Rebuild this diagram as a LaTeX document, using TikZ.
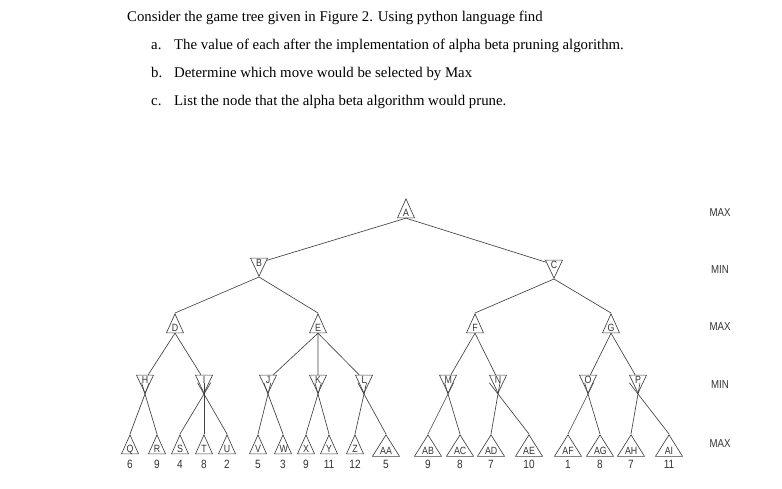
\documentclass[tikz,border=0pt]{standalone}
\usepackage{fontspec}
\setmainfont{Liberation Serif}
\setsansfont{Liberation Sans}
\newfontfamily\narrowsans[FakeStretch=0.84]{Liberation Sans}
\usepackage{tikz}
\usetikzlibrary{shapes.geometric,calc}

\begin{document}
\begin{tikzpicture}[x=1pt,y=-1pt,
    maxn/.style={shape=isosceles triangle, isosceles triangle stretches, shape border rotate=90,
      draw=black!75, line width=0.65pt, inner sep=0pt, minimum width=17pt, minimum height=19pt,
      text width=7pt, align=center, text height=7pt, text depth=0pt, anchor=apex,
      font=\narrowsans\fontsize{10.5}{11}\selectfont, text=black!80},
    minn/.style={maxn, shape border rotate=-90, minimum height=18pt},
    widen/.style={maxn, minimum width=27pt, text width=12pt},
    num/.style={font=\narrowsans\fontsize{12}{12}\selectfont, text=black!80, inner sep=0pt},
    lvl/.style={font=\narrowsans\fontsize{11.5}{12}\selectfont, text=black!80},
    txt/.style={anchor=base west, inner sep=0pt, font=\fontsize{14.8}{17}\selectfont},
    edge/.style={draw=black!75, line width=0.65pt}]
    \useasboundingbox (0,0) rectangle (782,489);
    % question text
    \node[txt] (q) at (127,21.7) {Consider the game tree given in Figure 2. Using python language find};
    \node[txt] (qa) at (151,49.3) {a.};
    \node[txt] (qat) at (174,49.3) {The value of each after the implementation of alpha beta pruning algorithm.};
    \node[txt] (qb) at (151,77.3) {b.};
    \node[txt] (qbt) at (174,77.3) {Determine which move would be selected by Max};
    \node[txt] (qc) at (151,105.5) {c.};
    \node[txt] (qct) at (174,105.5) {List the node that the alpha beta algorithm would prune.};
    % levels
    \node[lvl] (l1) at (720,213) {MAX};
    \node[lvl] (l2) at (720,270) {MIN};
    \node[lvl] (l3) at (720,327) {MAX};
    \node[lvl] (l4) at (720,385) {MIN};
    \node[lvl] (l5) at (720,444) {MAX};
    % tree
    \node[maxn] (A) at (406,198) {A};
    \node[minn] (B) at (259,277) {B};
    \node[minn] (C) at (554,279) {C};
    \node[maxn] (D) at (175,313) {D};
    \node[maxn] (E) at (318,313) {E};
    \node[maxn] (F) at (475,313) {F};
    \node[maxn] (G) at (611,313) {G};
    \foreach \n/\x in {H/145, I/204, J/268, K/318, L/364, M/448, N/498, O/588, P/638}
      \node[minn] (\n) at (\x,394) {\n};
    \foreach \n/\x/\v in {Q/130/6, R/157/9, S/180/4, T/204/8, U/227/2, V/258/5, W/283/3,
        X/306/9, Y/329/11, Z/355/12} {
      \node[maxn] (\n) at (\x,434) {\n};
      \node[num] (v\n) at (\x,464) {\v};
    }
    \foreach \n/\x/\v in {AA/386/5, AB/428/9, AC/460/8, AD/491/7, AE/529/10, AF/568/1,
        AG/600/8, AH/631/7, AI/669/11} {
      \node[widen] (\n) at (\x,434) {\n};
      \node[num] (v\n) at (\x,464) {\v};
    }
    % edges
    \draw[edge] (A.lower side) -- (B);
    \draw[edge] (A.lower side) -- (C);
    \foreach \p/\c in {B/D, B/E, C/F, C/G}
      \draw[edge] (\p.apex) -- (\c.apex);
    \foreach \p/\c in {D/H, D/I, E/J, E/K, E/L, F/M, F/N, G/O, G/P}
      \draw[edge] (\p.lower side) -- (\c);
    \foreach \p/\c in {H/Q, H/R, I/S, I/T, I/U, J/V, J/W, K/X, K/Y, L/Z, L/AA,
        M/AB, M/AC, N/AD, N/AE, O/AF, O/AG, P/AH, P/AI}
      \draw[edge] ($(\p.apex)!-0.28!(\c.apex)$) -- (\c.apex);
\end{tikzpicture}
\end{document}
